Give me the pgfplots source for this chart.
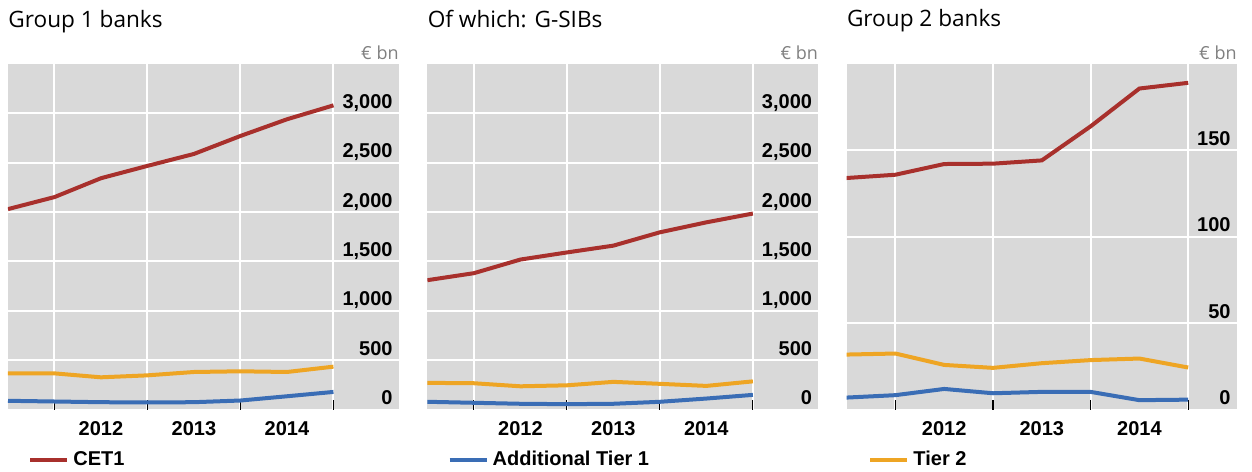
\documentclass[border=0pt]{standalone}
\usepackage{fontspec}
\setmainfont{Liberation Sans}
\newfontfamily\titlefont{Open Sans}
\usepackage{pgfplots}
\pgfplotsset{compat=1.18}
\definecolor{cet}{RGB}{168,48,44}
\definecolor{atone}{RGB}{58,109,181}
\definecolor{ttwo}{RGB}{238,165,36}
\definecolor{bg}{RGB}{217,217,217}
\definecolor{unitgray}{RGB}{128,128,128}

\pgfplotsset{panel/.style={
  scale only axis, width=195.5pt, height=172.75pt, anchor=south west,
  xmin=0, ymin=0, clip mode=individual,
  axis background/.style={fill=bg},
  axis line style={draw=none},
  xtick pos=left,
  xtick={2,4,6}, xticklabels={2012,2013,2014},
  xtick style={draw=none},
  extra x ticks={1,3,5,7}, extra x tick labels={},
  extra x tick style={grid=major, xtick pos=left, xtick style={draw=black, line width=0.6pt}, major tick length=5pt, tick align=inside},
  ymajorgrids, grid style={white, line width=1pt},
  ytick style={draw=none},
  yticklabel pos=right,
  yticklabel style={anchor=base east, inner sep=0pt, xshift=-3pt, yshift=2.5pt},
  xticklabel style={anchor=base, inner sep=0pt, yshift=-12.75pt},
  tick label style={font=\fontsize{10}{12}\selectfont\bfseries},
  legend style={draw=none, fill=none, inner sep=0pt, anchor=west, font=\fontsize{10}{12}\selectfont\bfseries, legend cell align=left},
  legend image code/.code={\draw[#1, line width=2pt] (0pt,0pt) -- (18.5pt,0pt);},
  every axis plot/.append style={line width=2pt, mark=none},
}}

\pgfplotstableread{
x c a t
0 2030 88 366
1 2152 81 366
2 2343 74 326
3 2468 71 346
4 2589 74 380
5 2771 91 387
6 2940 134 380
7 3081 178 434
}\groupone
\pgfplotstableread{
x c a t
0 1310 78 270
1 1381 68 266
2 1519 58 235
3 1591 54 245
4 1660 58 280
5 1795 78 260
6 1896 111 239
7 1985 148 285
}\gsib
\pgfplotstableread{
x c a t
0 134.0 6.9 31.8
1 135.9 8.3 32.4
2 142.1 11.9 25.8
3 142.3 9.4 24.1
4 144.2 10.2 26.8
5 163.9 10.2 28.6
6 185.8 5.4 29.5
7 189.1 5.7 24.3
}\grouptwo

\begin{document}
\begin{tikzpicture}
\useasboundingbox (0,0) rectangle (626pt,235.5pt);
% Panel 1
\begin{axis}[panel, at={(4pt,30.75pt)}, xmax=8.41, ymax=3500,
  ytick={0,500,1000,1500,2000,2500,3000},
  yticklabels={0,500,{1,000},{1,500},{2,000},{2,500},{3,000}},
  legend style={at={(0.051,-0.146)}}]
\addplot[ttwo, forget plot] table[x=x,y=t]{\groupone};
\addplot[atone, forget plot] table[x=x,y=a]{\groupone};
\addplot[cet] table[x=x,y=c]{\groupone};
\addlegendentry{CET1}
\node[anchor=base west, inner sep=0pt, yshift=18.5pt, font=\titlefont\fontsize{11.3}{13}\selectfont] at (rel axis cs:0,1) {Group 1 banks};
\node[anchor=base east, inner sep=0pt, yshift=2.5pt, text=unitgray, font=\titlefont\fontsize{9}{10}\selectfont] at (rel axis cs:1,1) {€ bn};
\end{axis}
% Panel 2
\begin{axis}[panel, at={(213.7pt,30.75pt)}, xmax=8.41, ymax=3500,
  ytick={0,500,1000,1500,2000,2500,3000},
  yticklabels={0,500,{1,000},{1,500},{2,000},{2,500},{3,000}},
  legend style={at={(0.051,-0.146)}}]
\addplot[ttwo, forget plot] table[x=x,y=t]{\gsib};
\addplot[cet, forget plot] table[x=x,y=c]{\gsib};
\addplot[atone] table[x=x,y=a]{\gsib};
\addlegendentry{Additional Tier 1}
\node[anchor=base west, inner sep=0pt, yshift=18.5pt, font=\titlefont\fontsize{11.3}{13}\selectfont] at (rel axis cs:0,1) {Of which: G-SIBs};
\node[anchor=base east, inner sep=0pt, yshift=2.5pt, text=unitgray, font=\titlefont\fontsize{9}{10}\selectfont] at (rel axis cs:1,1) {€ bn};
\end{axis}
% Panel 3
\begin{axis}[panel, at={(423.3pt,30.75pt)}, width=195.2pt, xmax=8.0, ymax=200,
  ytick={0,50,100,150},
  yticklabels={0,50,100,150},
  legend style={at={(0.055,-0.146)}}]
\addplot[atone, forget plot] table[x=x,y=a]{\grouptwo};
\addplot[cet, forget plot] table[x=x,y=c]{\grouptwo};
\addplot[ttwo] table[x=x,y=t]{\grouptwo};
\addlegendentry{Tier 2}
\node[anchor=base west, inner sep=0pt, yshift=18.5pt, font=\titlefont\fontsize{11.3}{13}\selectfont] at (rel axis cs:0,1) {Group 2 banks};
\node[anchor=base east, inner sep=0pt, yshift=2.5pt, text=unitgray, font=\titlefont\fontsize{9}{10}\selectfont] at (rel axis cs:1,1) {€ bn};
\end{axis}
\end{tikzpicture}
\end{document}
